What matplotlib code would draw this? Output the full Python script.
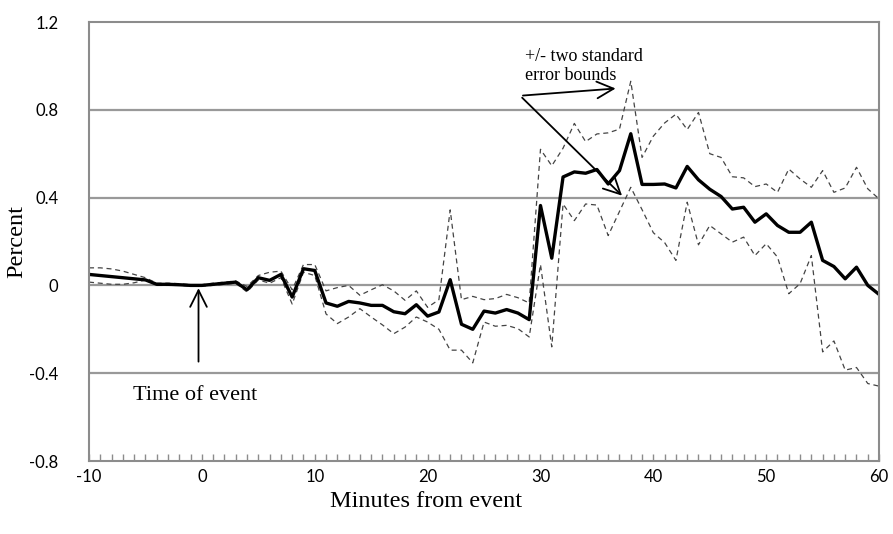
import numpy as np
import matplotlib.pyplot as plt
from matplotlib.ticker import MultipleLocator, FixedLocator

plt.rcParams['axes.unicode_minus'] = False

minutes = list(range(-10, 61))

mean = [0.05, 0.045, 0.04, 0.035, 0.03, 0.025, 0.005, 0.005, 0.003, 0.0,
        0.0, 0.005, 0.01, 0.015, -0.02, 0.035, 0.023, 0.05, -0.053, 0.076,
        0.068, -0.08, -0.095, -0.073, -0.08, -0.091, -0.091, -0.12, -0.129, -0.088,
        -0.14, -0.121, 0.026, -0.177, -0.2, -0.117, -0.126, -0.11, -0.126, -0.156,
        0.364, 0.124, 0.494, 0.517, 0.511, 0.528, 0.462, 0.523, 0.691, 0.46,
        0.46, 0.462, 0.444, 0.542, 0.481, 0.438, 0.405, 0.348, 0.356, 0.288,
        0.326, 0.273, 0.242, 0.242, 0.288, 0.114, 0.086, 0.03, 0.083, 0.0,
        -0.041]

upper = [0.08, 0.08, 0.075, 0.065, 0.05, 0.035, 0.01, 0.01, 0.008, 0.003,
         0.003, 0.01, 0.015, 0.02, -0.005, 0.045, 0.06, 0.065, -0.02, 0.095,
         0.095, -0.025, -0.01, 0.0, -0.045, -0.02, 0.003, -0.025, -0.068, -0.025,
         -0.1, -0.065, 0.344, -0.065, -0.05, -0.065, -0.06, -0.041, -0.056, -0.08,
         0.62, 0.545, 0.625, 0.738, 0.655, 0.69, 0.695, 0.712, 0.93, 0.583,
         0.68, 0.74, 0.78, 0.71, 0.788, 0.6, 0.583, 0.495, 0.49, 0.45,
         0.462, 0.424, 0.53, 0.485, 0.447, 0.523, 0.424, 0.444, 0.538, 0.44,
         0.394]

lower = [0.015, 0.01, 0.005, 0.005, 0.012, 0.025, 0.0, 0.0, 0.0, -0.003,
         -0.003, 0.0, 0.005, 0.01, -0.03, 0.025, 0.01, 0.035, -0.085, 0.06,
         0.045, -0.13, -0.174, -0.144, -0.106, -0.144, -0.18, -0.22, -0.19, -0.144,
         -0.167, -0.2, -0.295, -0.295, -0.353, -0.167, -0.186, -0.182, -0.197, -0.235,
         0.095, -0.28, 0.371, 0.295, 0.371, 0.366, 0.227, 0.337, 0.447, 0.345,
         0.24, 0.195, 0.114, 0.379, 0.185, 0.273, 0.235, 0.197, 0.22, 0.136,
         0.19, 0.129, -0.038, 0.008, 0.136, -0.303, -0.253, -0.386, -0.374, -0.447,
         -0.459]

serif = ['Liberation Serif', 'DejaVu Serif']
sans = ['Lato', 'DejaVu Sans']
grey = '#8c8c8c'

fig = plt.figure(figsize=(8.93, 5.34), dpi=100)
ax = fig.add_axes([0.0997, 0.1367, 0.8847, 0.8221])

for y in [-0.4, 0, 0.4, 0.8]:
    ax.axhline(y, color='#999999', lw=1.6, zorder=0)

ax.plot(minutes, upper, color='#444444', lw=0.9, dashes=(4, 3))
ax.plot(minutes, lower, color='#444444', lw=0.9, dashes=(4, 3))
ax.plot(minutes, mean, color='black', lw=2.4)

ax.set_xlim(-10, 60)
ax.set_ylim(-0.8, 1.2)
ax.xaxis.set_major_locator(MultipleLocator(10))
ax.xaxis.set_minor_locator(MultipleLocator(1))
ax.yaxis.set_major_locator(FixedLocator([-0.8, -0.4, 0, 0.4, 0.8, 1.2]))
ax.set_yticklabels(['-0.8', '-0.4', '0', '0.4', '0.8', '1.2'])
ax.tick_params(axis='x', which='both', direction='in', length=5, width=1,
               color=grey, pad=6, labelsize=12)
ax.tick_params(axis='y', length=0, pad=22, labelsize=12)
for lab in ax.get_xticklabels() + ax.get_yticklabels():
    lab.set_family(sans)
for s in ax.spines.values():
    s.set_color(grey)
    s.set_linewidth(1.5)

ax.set_xlabel('Minutes from event', family=serif, fontsize=17.5)
ax.set_ylabel('Percent', family=serif, fontsize=17.5)
ax.xaxis.set_label_coords(0.4265, -0.068)
ax.yaxis.set_label_coords(-0.078, 0.5)

arrow = dict(arrowstyle='->', color='black', lw=1.3, mutation_scale=30)
ax.annotate('', xy=(-0.3, 0.0), xytext=(-0.3, -0.36), arrowprops=arrow)
ax.text(-0.6, -0.5, 'Time of event', family=serif, fontsize=16,
        ha='center', va='center')
ax.text(28.6, 1.0, '+/- two standard\nerror bounds', family=serif, fontsize=13,
        ha='left', va='center', linespacing=1.15)
ax.annotate('', xy=(36.9, 0.898), xytext=(28.2, 0.864), arrowprops=arrow)
ax.annotate('', xy=(37.4, 0.40), xytext=(28.2, 0.864), arrowprops=arrow)

fig.savefig('out.png', dpi=100)
